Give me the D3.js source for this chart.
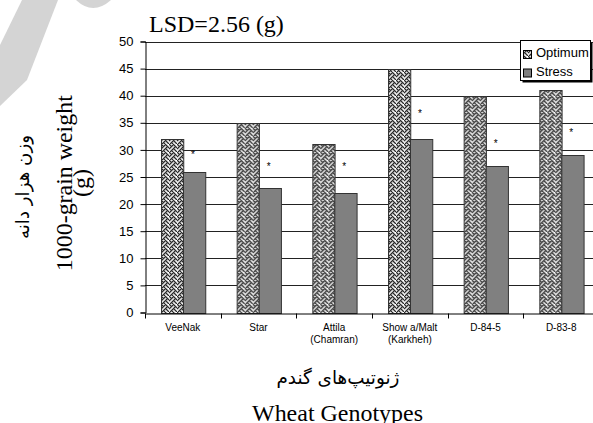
<!DOCTYPE html>
<html><head><meta charset="utf-8">
<script src="https://cdn.jsdelivr.net/npm/d3@7/dist/d3.min.js"></script>
<style>body{margin:0;background:#fff}svg{display:block}</style>
</head><body>
<svg id="c" width="593" height="423"></svg>
<script>
const categories = [["VeeNak"],["Star"],["Attila","(Chamran)"],["Show a/Malt","(Karkheh)"],["D-84-5"],["D-83-8"]];
const series = ["Optimum","Stress"];
const optimum = [32, 35, 31, 45, 40, 41];
const stress = [26, 23, 22, 32, 27, 29];
const asteriskAt = [29.4, 27.3, 27.3, 37.0, 31.4, 33.4];
const yTicks = [0,5,10,15,20,25,30,35,40,45,50];

const svg = d3.select("#c");

// faint watermark fragment (top-left)
svg.append("path").attr("d","M22,0 L58,0 L27,80 L0,106 L0,45 Z").attr("fill","#d4d4d4");
svg.append("path").attr("d","M76,0 Q93,16 111,0 Z").attr("fill","#d4d4d4");

const keys = categories.map(c => c.join(" "));
const x0 = d3.scaleBand().domain(keys).range([145, 599]).paddingInner(0).paddingOuter(0);
const x1 = d3.scaleBand().domain(series).range([0, x0.bandwidth()]).paddingInner(0).paddingOuter(0.7);
const y = d3.scaleLinear().domain([0, 50]).range([312.5, 41.5]);

// weave pattern (8x8 bits)
const weave = [0x88, 0x54, 0x22, 0x45, 0x88, 0x14, 0x22, 0x51];
const defs = svg.append("defs");
const pat = defs.append("pattern").attr("id","weave").attr("patternUnits","userSpaceOnUse")
  .attr("width",8).attr("height",8);
pat.append("rect").attr("width",8).attr("height",8).attr("fill","#fff");
weave.forEach((b, r) => { for (let c = 0; c < 8; c++) if (b & (0x80 >> c)) pat.append("rect").attr("x",c-0.2).attr("y",r-0.2).attr("width",1.5).attr("height",1.5).attr("fill","#2a2a2a"); });

// gridlines
svg.append("g").selectAll("line").data(yTicks.filter(t => t > 0)).join("line")
  .attr("x1",145).attr("x2",599).attr("y1",d => Math.round(y(d))+0.5).attr("y2",d => Math.round(y(d))+0.5)
  .attr("stroke","#222").attr("stroke-width",1);

// y axis
const yAxis = d3.axisLeft(y).tickValues(yTicks).tickSize(5).tickPadding(7);
const gy = svg.append("g").attr("transform","translate(145.5,0)").call(yAxis);
gy.select(".domain").attr("stroke","#000");
gy.selectAll(".tick line").attr("stroke","#000");
gy.selectAll(".tick text").attr("font-family","Arial, 'Liberation Sans', sans-serif").attr("font-size",13).attr("fill","#000");

// bars
const data = keys.map((k,i) => ({k, vals: [optimum[i], stress[i]]}));
const groups = svg.append("g").selectAll("g").data(data).join("g").attr("transform", d => `translate(${x0(d.k)},0)`);
groups.selectAll("rect").data(d => d.vals.map((v,j) => ({s: series[j], v}))).join("rect")
  .attr("x", d => Math.round(x1(d.s)) + 0.5)
  .attr("y", d => Math.round(y(d.v)) + 0.5)
  .attr("width", x1.bandwidth())
  .attr("height", d => Math.round(y(0)) - Math.round(y(d.v)))
  .attr("fill", d => d.s === "Optimum" ? "url(#weave)" : "#808080")
  .attr("stroke", "#333").attr("stroke-width", 1);

// asterisks
svg.append("g").selectAll("text").data(keys).join("text")
  .attr("x", (k) => x0(k) + x1("Stress") + x1.bandwidth()/2 - 1)
  .attr("y", (k,i) => y(asteriskAt[i]) + 5)
  .attr("text-anchor","middle").attr("font-family","Arial, 'Liberation Sans', sans-serif").attr("font-size",10)
  .attr("fill","#000").text("*");

// x axis
const xAxis = d3.axisBottom(x0).tickSize(0).tickFormat("");
const gx = svg.append("g").attr("transform", `translate(0,${Math.round(y(0))+0.5})`).call(xAxis);
gx.select(".domain").attr("stroke","#000");
const bounds = keys.map(k => x0(k)).concat([x0.range()[1]]);
gx.selectAll("line.tk").data(bounds).join("line").attr("class","tk")
  .attr("x1", d => Math.round(d)+0.5).attr("x2", d => Math.round(d)+0.5).attr("y1",0).attr("y2",5).attr("stroke","#000");

// category labels
const labs = svg.append("g").selectAll("text").data(categories).join("text")
  .attr("x", (c) => x0(c.join(" ")) + x0.bandwidth()/2)
  .attr("y", 331)
  .attr("text-anchor","middle").attr("font-family","Arial, 'Liberation Sans', sans-serif").attr("font-size",10).attr("fill","#000");
labs.each(function(c){ d3.select(this).selectAll("tspan").data(c).join("tspan")
  .attr("x", x0(c.join(" ")) + x0.bandwidth()/2).attr("dy",(d,i)=> i ? 12 : 0).text(d=>d); });

// helper: fit a text to a target length and centre it (in its own coords)
function fitCenter(sel, targetLen, cx) {
  const node = sel.node();
  let fs = +sel.attr("font-size");
  const b0 = node.getBBox();
  fs = fs * targetLen / b0.width;
  sel.attr("font-size", fs);
  const b1 = node.getBBox();
  const dx = cx - (b1.x + b1.width / 2);
  sel.attr("x", +sel.attr("x") + dx);
}

// title
const ser = "'Liberation Serif','Times New Roman',serif";
svg.append("text").attr("x",149).attr("y",32).attr("font-family",ser)
  .attr("font-size",24).text("LSD=2.56 (g)");

// legend
const lg = svg.append("g");
lg.append("rect").attr("x",522.5).attr("y",42.5).attr("width",70).attr("height",40).attr("fill","#000");
lg.append("rect").attr("x",520.5).attr("y",40.5).attr("width",70).attr("height",40).attr("fill","#fff").attr("stroke","#000");
series.forEach((s,i) => {
  lg.append("rect").attr("x",523.5).attr("y",50.5 + i*18.5).attr("width",8).attr("height",8)
    .attr("fill", i ? "#808080" : "url(#weave)").attr("stroke","#000");
  lg.append("text").attr("x",536).attr("y",57 + i*19).attr("font-family","Arial, 'Liberation Sans', sans-serif")
    .attr("font-size",13).text(s);
});

// axis titles (rotated ones: local x is along the text, centre at -y)
const t1 = svg.append("text").attr("transform","translate(72,0) rotate(-90)").attr("x",-183).attr("y",0)
  .attr("font-family",ser).attr("font-size",22).text("1000-grain weight");
fitCenter(t1, 176, -183);
const t2 = svg.append("text").attr("transform","translate(89,0) rotate(-90)").attr("x",-183).attr("y",0)
  .attr("font-family",ser).attr("font-size",t1.attr("font-size")).text("(g)");
fitCenter(t2, t2.node().getBBox().width, -183);
const t3 = svg.append("text").attr("transform","translate(29,0) rotate(-90)").attr("x",-187).attr("y",0)
  .attr("font-family","'DejaVu Sans', sans-serif").attr("font-size",14).text("وزن هزار دانه");
fitCenter(t3, 104, -187);
const t4 = svg.append("text").attr("x",338).attr("y",384)
  .attr("font-family","'DejaVu Sans', sans-serif").attr("font-size",17).text("ژنوتیپ‌های گندم");
fitCenter(t4, 123, 338);
const t5 = svg.append("text").attr("x",252).attr("y",421)
  .attr("font-family",ser).attr("font-size",24).text("Wheat Genotypes");
fitCenter(t5, 171, 337.5);
</script>
</body></html>
